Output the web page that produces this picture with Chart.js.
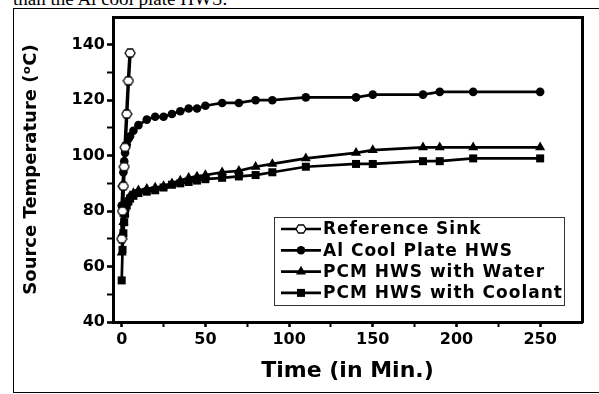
<!DOCTYPE html>
<html lang="en">
<head>
  <meta charset="UTF-8">
  <title>Source Temperature vs Time</title>
  <script src="https://cdn.jsdelivr.net/npm/chart.js"></script>
  <style>
    body { margin: 0; width: 599px; height: 394px; overflow: hidden; background: #fff; position: relative; }
    #caption { position: absolute; left: 13px; top: -11px; font: 19px/19px "Liberation Serif", serif; white-space: nowrap; }
    #frame { position: absolute; left: 13px; top: 8px; width: 600px; height: 385px; border: 1px solid #000; border-right: none; box-sizing: border-box; }
    #chartCanvas { position: absolute; left: 0; top: 0; }
  </style>
</head>
<body>
  <div id="caption">than the Al cool plate HWS.</div>
  <div id="frame"></div>
  <canvas id="chartCanvas" width="599" height="394"></canvas>

  <script>
    // data
    const refTime = [0, 0.5, 1, 1.5, 2, 3, 4, 5];
    const refTemp = [70, 80, 89, 96, 103, 115, 127, 137];
    const hwsTime = [0, 0.5, 1, 1.5, 2, 3, 4, 5, 7, 10, 15, 20, 25, 30, 35, 40, 45, 50, 60, 70, 80, 90, 110, 140, 150, 180, 190, 210, 250];
    const alTemp = [82, 89, 94, 98, 101, 104, 106, 107, 109, 111, 113, 114, 114, 115, 116, 117, 117, 118, 119, 119, 120, 120, 121, 121, 122, 122, 123, 123, 123];
    const waterTemp = [65, 72, 76, 79, 81, 83, 84.5, 85.5, 86.5, 87.5, 88, 88.5, 89, 90, 91, 92, 92.5, 93, 94, 94.5, 96, 97, 99, 101, 102, 103, 103, 103, 103];
    const coolantTemp = [55, 66, 72, 76, 79, 82, 83.5, 84.5, 85.5, 86.5, 87, 87.5, 88.5, 89.5, 90, 90.5, 91, 91.5, 92, 92.5, 93, 94, 96, 97, 97, 98, 98, 99, 99];
    const seriesNames = ["Reference Sink", "Al Cool Plate HWS", "PCM HWS with Water", "PCM HWS with Coolant"];
    const xTicks = [0, 25, 50, 75, 100, 125, 150, 175, 200, 225, 250];
    const yTicks = [40, 50, 60, 70, 80, 90, 100, 110, 120, 130, 140];

    // open hexagon marker
    const hexagon = document.createElement("canvas");
    hexagon.width = 12; hexagon.height = 10;
    (function () {
      const c = hexagon.getContext("2d");
      c.beginPath();
      c.moveTo(1, 5); c.lineTo(3.5, 1); c.lineTo(8.5, 1); c.lineTo(11, 5); c.lineTo(8.5, 9); c.lineTo(3.5, 9);
      c.closePath();
      c.fillStyle = "#fff"; c.fill();
      c.lineWidth = 1.3; c.strokeStyle = "#000"; c.stroke();
    })();

    const markers = [hexagon, "circle", "triangle", "rect"];

    function toPoints(xs, ys) {
      return xs.map((x, i) => ({ x: x, y: ys[i] }));
    }

    function drawMarker(ctx, style, x, y) {
      ctx.save();
      if (style instanceof HTMLCanvasElement) {
        ctx.drawImage(style, x - style.width / 2, y - style.height / 2);
      } else {
        ctx.fillStyle = "#000";
        ctx.beginPath();
        if (style === "circle") ctx.arc(x, y, 4.3, 0, Math.PI * 2);
        if (style === "triangle") {
          const r = 5.8;
          ctx.moveTo(x, y - r);
          ctx.lineTo(x + r * 0.866, y + r / 2);
          ctx.lineTo(x - r * 0.866, y + r / 2);
          ctx.closePath();
        }
        if (style === "rect") ctx.rect(x - 4, y - 4, 8, 8);
        ctx.fill();
      }
      ctx.restore();
    }

    // boxed legend in the lower right of the plot
    const boxLegend = {
      id: "boxLegend",
      afterDraw(chart) {
        const ctx = chart.ctx;
        const area = chart.chartArea;
        const w = 290, h = 88;
        const left = area.right - 18 - w;
        const top = area.bottom - 17 - h;
        ctx.save();
        ctx.lineWidth = 1;
        ctx.strokeStyle = "#333";
        ctx.strokeRect(left + 0.5, top + 0.5, w, h);
        ctx.font = "bold 17px 'DejaVu Sans'";
        ctx.letterSpacing = "1px";
        ctx.textBaseline = "middle";
        ctx.fillStyle = "#000";
        seriesNames.forEach((name, i) => {
          const y = top + 12 + i * 21.3;
          ctx.beginPath();
          ctx.lineWidth = 2.7;
          ctx.strokeStyle = "#000";
          ctx.moveTo(left + 7, y);
          ctx.lineTo(left + 47, y);
          ctx.stroke();
          drawMarker(ctx, markers[i], left + 27, y);
          ctx.fillText(name, left + 49, y + 1);
        });
        ctx.restore();
      }
    };

    const tickFont = { family: "DejaVu Sans", weight: "bold", size: 16 };

    function frameAxis(position, fit) {
      return {
        type: "linear",
        position: position,
        display: true,
        grid: { display: false },
        ticks: { display: false },
        border: { display: true, width: 3, color: "#000" },
        afterFit: fit
      };
    }

    const ctx = document.getElementById("chartCanvas").getContext("2d");
    new Chart(ctx, {
      type: "line",
      data: {
        datasets: [
          { label: seriesNames[0], data: toPoints(refTime, refTemp), borderWidth: 3.5, pointStyle: markers[0], pointRadius: 5 },
          { label: seriesNames[1], data: toPoints(hwsTime, alTemp), pointStyle: markers[1], pointRadius: 4.3 },
          { label: seriesNames[2], data: toPoints(hwsTime, waterTemp), pointStyle: markers[2], pointRadius: 5.8 },
          { label: seriesNames[3], data: toPoints(hwsTime, coolantTemp), pointStyle: markers[3], pointRadius: 5.66 }
        ].map(d => Object.assign({
          borderColor: "#000", backgroundColor: "#000", pointBackgroundColor: "#000",
          pointBorderColor: "#000", pointBorderWidth: 0, borderWidth: 2.7, tension: 0,
          xAxisID: "x", yAxisID: "y"
        }, d))
      },
      options: {
        responsive: false,
        animation: false,
        devicePixelRatio: 1,
        layout: { padding: { left: 14, right: 17, top: 17, bottom: 10 } },
        plugins: { legend: { display: false }, tooltip: { enabled: false } },
        scales: {
          x: {
            type: "linear",
            position: "bottom",
            min: -5.2,
            max: 275,
            afterBuildTicks: s => { s.ticks = xTicks.map(v => ({ value: v })); },
            afterFit: s => { s.height = 62; },
            grid: { display: true, drawOnChartArea: false, drawTicks: true, tickLength: 5, tickColor: "#000",
                    tickWidth: c => (c.tick && c.tick.value % 50 === 0 ? 2.6 : 2) },
            border: { display: true, width: 3, color: "#000" },
            ticks: { color: "#000", font: tickFont, padding: 3, autoSkip: false, maxRotation: 0,
                     callback: v => (v % 50 === 0 ? v : "") },
            title: { display: true, text: "Time (in Min.)", color: "#000",
                     font: { family: "DejaVu Sans", weight: "bold", size: 22 }, padding: { top: 0, bottom: 0 } }
          },
          y: {
            type: "linear",
            position: "left",
            min: 40,
            max: 150,
            afterBuildTicks: s => { s.ticks = yTicks.map(v => ({ value: v })); },
            afterFit: s => { s.width = 99; },
            grid: { display: true, drawOnChartArea: false, drawTicks: true, tickLength: 6, tickColor: "#000",
                    tickWidth: c => (c.tick && c.tick.value % 20 === 0 ? 2.6 : 2) },
            border: { display: true, width: 3, color: "#000" },
            ticks: { color: "#000", font: tickFont, padding: 2, autoSkip: false,
                     callback: v => (v % 20 === 0 ? v : "") },
            title: { display: true, text: "Source Temperature (ᵒC)", color: "#000",
                     font: { family: "DejaVu Sans", weight: "bold", size: 18 }, padding: { top: 7, bottom: 0 } }
          },
          xTop: frameAxis("top", s => { s.height = 0; }),
          yRight: frameAxis("right", s => { s.width = 0; })
        }
      },
      plugins: [boxLegend]
    });
  </script>
</body>
</html>
